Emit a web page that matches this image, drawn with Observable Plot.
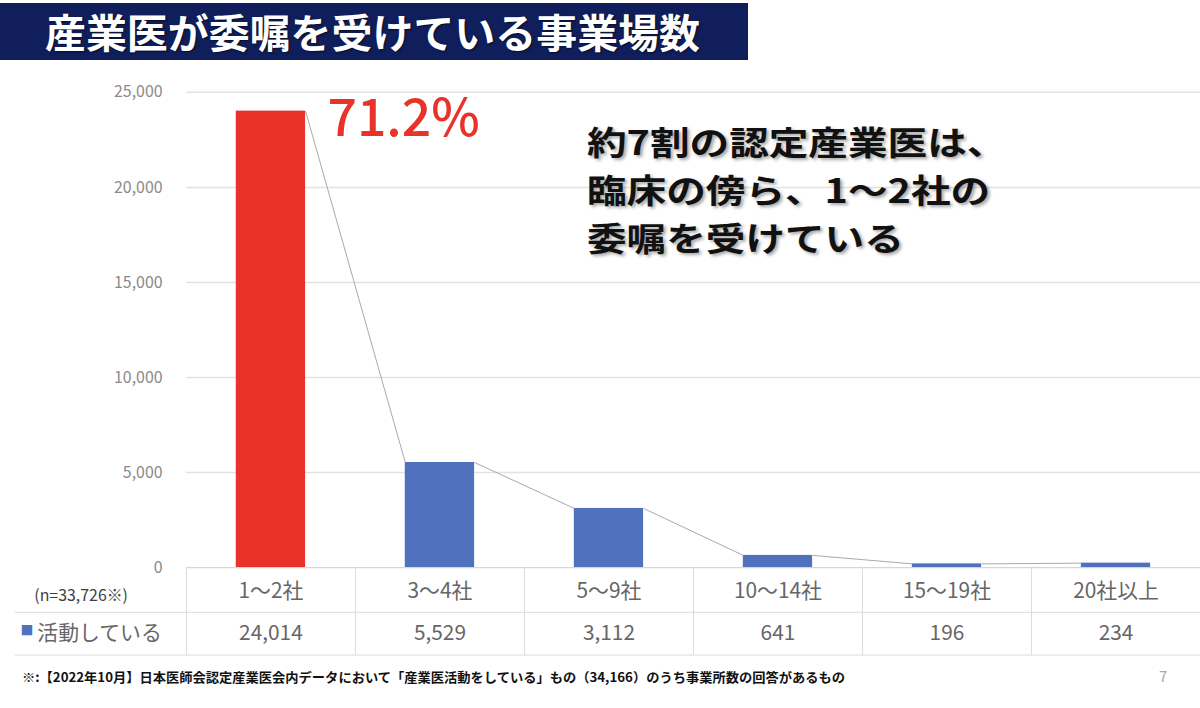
<!DOCTYPE html>
<html><head><meta charset="utf-8">
<script src="https://cdn.jsdelivr.net/npm/d3@7"></script>
<script src="https://cdn.jsdelivr.net/npm/@observablehq/plot@0.6"></script>
<style>
body{margin:0;width:1200px;height:708px;overflow:hidden;background:#fff;font-family:"Noto Sans CJK JP","Noto Sans",sans-serif;position:relative}
#banner{position:absolute;left:0;top:3px;width:748px;height:57px;background:#101f5c;}
#title{position:absolute;left:45px;top:2px;color:#fff;font-weight:700;font-size:40px;line-height:52px;white-space:nowrap;transform-origin:left center;text-shadow:1px 1px 2px rgba(0,0,0,.6)}
#chart{position:absolute;left:0;top:70px}
.msg{position:absolute;left:587px;font-size:33px;font-weight:700;line-height:47px;height:47px;color:#111;text-shadow:2px 2px 3px rgba(0,0,0,.35);white-space:nowrap;transform-origin:left center;transform:scaleX(1.2)}
#note{position:absolute;left:22px;top:667px;font-size:13px;font-weight:700;white-space:nowrap;transform-origin:left top;color:#111}
#page{position:absolute;left:1159px;top:665px;font-size:15px;color:#aaa}
</style></head>
<body>
<div id="banner"><div id="title">産業医が委嘱を受けている事業場数</div></div>
<div id="chart"></div>
<div class="msg" style="top:118px">約7割の認定産業医は、</div>
<div class="msg" style="top:166px">臨床の傍ら、1〜2社の</div>
<div class="msg" style="top:214px">委嘱を受けている</div>
<div id="note">※:【2022年10月】日本医師会認定産業医会内データにおいて「産業医活動をしている」もの（34,166）のうち事業所数の回答があるもの</div>
<div id="page">7</div>
<script>
const categories = ["1〜2社","3〜4社","5〜9社","10〜14社","15〜19社","20社以上"];
const values = [24014,5529,3112,641,196,234];
const yTicks = [0,5000,10000,15000,20000,25000];
const seriesName = "活動している";

const total = d3.sum(values);
const data = categories.map((c,i)=>({i, category:c, value:values[i]}));
const links = data.slice(0,-1).map((d,k)=>({from:d, to:data[k+1]}));
const BAR = 0.295;
const RED = "#e8322a", BLUE = "#4f71be", GRAY = "#666";
const fmt = d3.format(",d");

const chart = Plot.plot({
  width:1207, height:600, marginTop:22, marginBottom:100, marginLeft:187, marginRight:0,
  x:{type:"linear", domain:[0, categories.length], axis:null},
  y:{domain:[0,25000], ticks:yTicks, tickFormat:fmt, tickSize:0, tickPadding:24, label:null},
  style:{fontSize:"16px", fontFamily:'"Noto Sans CJK JP","Noto Sans",sans-serif', color:"#8a8a8a", overflow:"visible", background:"transparent"},
  marks:[
    Plot.ruleY(yTicks.filter(t=>t>0), {stroke:"#e2e2e2", strokeWidth:1.5}),
    Plot.rect(data, {x1:d=>d.i+BAR, x2:d=>d.i+1-BAR, y1:0, y2:"value", fill:d=>d.i===0?RED:BLUE}),
    Plot.link(links, {x1:d=>d.from.i+1-BAR, y1:d=>d.from.value, x2:d=>d.to.i+BAR, y2:d=>d.to.value, stroke:"#a8a8a8", strokeWidth:1}),
    // data table
    Plot.ruleY([0], {stroke:"#d6d6d6", strokeWidth:1.2}),
    Plot.ruleY([0], {stroke:"#dcdcdc", dy:45, insetLeft:-172}),
    Plot.ruleY([0], {stroke:"#dcdcdc", dy:88, insetLeft:-172}),
    Plot.ruleX(d3.range(categories.length), {y1:0, y2:0, insetBottom:-88, stroke:"#dcdcdc"}),
    Plot.text(data, {x:d=>d.i+0.5, y:0, text:"category", dy:24, fontSize:21, fill:GRAY}),
    Plot.text(data, {x:d=>d.i+0.5, y:0, text:d=>fmt(d.value), dy:66, fontSize:21, fill:GRAY}),
    Plot.text([`(n=${fmt(total)}※)`], {y:()=>0, frameAnchor:"left", dx:-153, dy:28, textAnchor:"start", fontSize:16, fill:"#404040"}),
    Plot.text(["■"], {y:()=>0, frameAnchor:"left", dx:-167, dy:64, textAnchor:"start", fontSize:13, fill:BLUE}),
    Plot.text([seriesName], {y:()=>0, frameAnchor:"left", dx:-150, dy:66, textAnchor:"start", fontSize:21, fill:GRAY}),
    // share annotation
    Plot.text([data[0]], {x:d=>d.i+1-BAR, y:"value", text:d=>d3.format(".1%")(d.value/total), dx:22, dy:8, textAnchor:"start", fontSize:52, fontWeight:500, fill:RED})
  ]
});
document.getElementById("chart").append(chart);

function fit(id, w){
  const el = document.getElementById(id);
  const r = el.getBoundingClientRect().width;
  el.style.transform = `scaleX(${w/r})`;
}
fit("title", 655);
fit("note", 823);
</script>
</body></html>
